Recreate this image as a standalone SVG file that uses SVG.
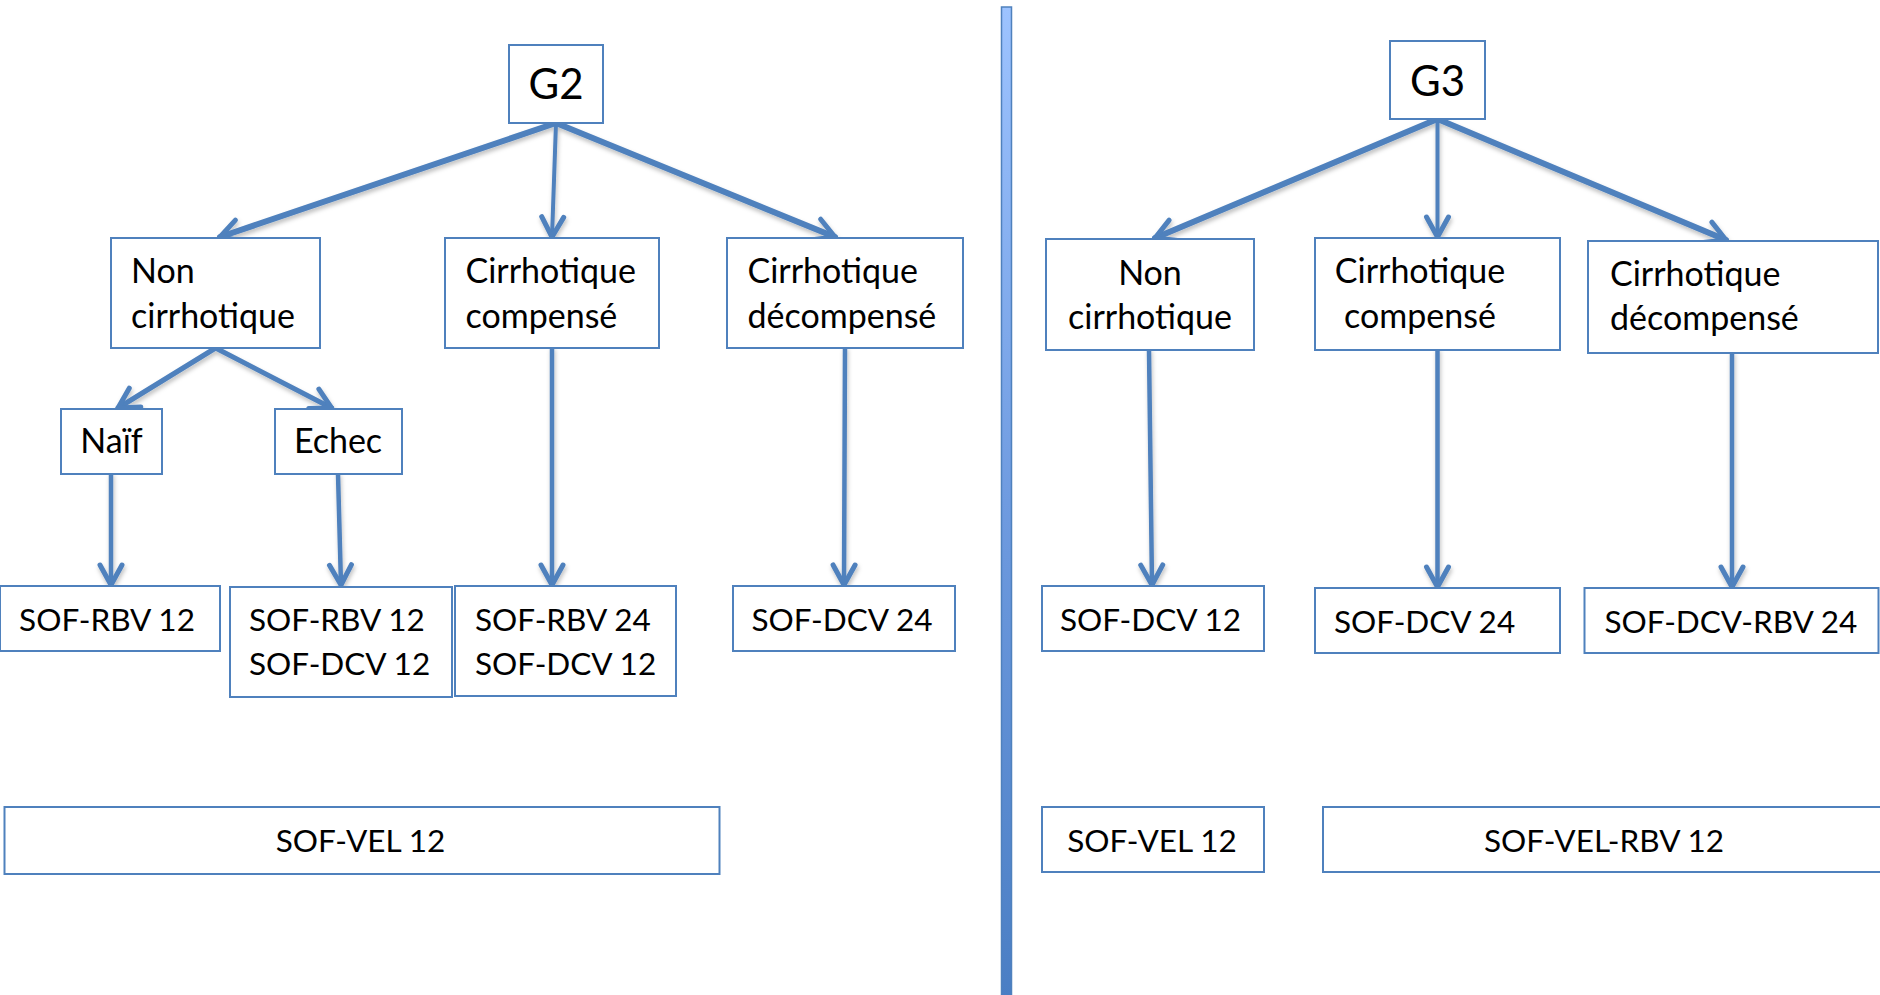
<svg xmlns="http://www.w3.org/2000/svg" width="1880" height="995" viewBox="0 0 1880 995">
<defs>
<marker id="ah" markerUnits="userSpaceOnUse" viewBox="-26 -16 32 32" markerWidth="32" markerHeight="32" refX="0" refY="0" orient="auto">
<path d="M -20 -11 L 0 0 L -20 11" fill="none" stroke="#4f81bd" stroke-width="5" stroke-linecap="round" stroke-linejoin="round"/>
</marker>
<linearGradient id="dg" x1="0" y1="0" x2="0" y2="1">
<stop offset="0" stop-color="#9dc3ff"/>
<stop offset="0.5" stop-color="#6f9be0"/>
<stop offset="1" stop-color="#4a7ec4"/>
</linearGradient>
<filter id="sh" x="-20%" y="-20%" width="140%" height="140%">
<feDropShadow dx="1" dy="3" stdDeviation="2" flood-color="#000" flood-opacity="0.25"/>
</filter>
</defs>
<style>
.box{fill:#fff;stroke:#4f81bd;stroke-width:2}
.t{font-family:Lato,"Liberation Sans",sans-serif;font-size:34px;fill:#000}
.s{font-size:31.5px}
.c{text-anchor:middle}
.big{font-size:42px}
.cn path{fill:none;stroke:#4f81bd;stroke-linecap:round;marker-end:url(#ah)}
</style>
<rect width="1880" height="995" fill="#fff"/>
<rect id="divider" x="1001.5" y="7" width="10" height="990" fill="url(#dg)" stroke="#4f81bd" stroke-width="1.5"/>

<g class="cn" filter="url(#sh)">
<path d="M556 123 L220 237" stroke-width="6"/>
<path d="M556 123 L552 237" stroke-width="4"/>
<path d="M556 123 L835 237" stroke-width="6"/>
<path d="M215.6 348 L118 408" stroke-width="5"/>
<path d="M215.6 348 L331.6 408" stroke-width="5"/>
<path d="M111 474 L111 585" stroke-width="4.5"/>
<path d="M338 474 L341 585" stroke-width="4.5"/>
<path d="M552 348 L552 585" stroke-width="4.5"/>
<path d="M845 348 L844 585" stroke-width="4.5"/>
<path d="M1437.5 119 L1155 238" stroke-width="6"/>
<path d="M1437.5 119 L1437.5 237" stroke-width="4"/>
<path d="M1437.5 119 L1726 240" stroke-width="6"/>
<path d="M1149 350 L1152 585" stroke-width="4.5"/>
<path d="M1437.5 350 L1437.5 587" stroke-width="4.5"/>
<path d="M1732 353 L1732 587" stroke-width="4.5"/>
</g>

<g id="g2">
<rect class="box" x="509" y="45" width="94" height="78"/>
<text class="t big c" x="556" y="99">G2</text>
</g>
<g id="g2-noncirr">
<rect class="box" x="111" y="238" width="209" height="110"/>
<text class="t" x="131" y="283">Non</text>
<text class="t" x="131" y="328">cirrhotique</text>
</g>
<g id="g2-comp">
<rect class="box" x="445" y="238" width="214" height="110"/>
<text class="t" x="465.5" y="283">Cirrhotique</text>
<text class="t" x="465.5" y="328">compensé</text>
</g>
<g id="g2-decomp">
<rect class="box" x="727" y="238" width="236" height="110"/>
<text class="t" x="747.5" y="283">Cirrhotique</text>
<text class="t" x="747.5" y="328">décompensé</text>
</g>
<g id="g2-naif">
<rect class="box" x="61" y="409" width="101" height="65"/>
<text class="t c" x="111.5" y="453">Naïf</text>
</g>
<g id="g2-echec">
<rect class="box" x="275" y="409" width="127" height="65"/>
<text class="t c" x="338" y="453">Echec</text>
</g>
<g id="g2-r1">
<rect class="box" x="0" y="586" width="220" height="65"/>
<text class="t s c" x="107" y="631">SOF-RBV 12</text>
</g>
<g id="g2-r2">
<rect class="box" x="230" y="587" width="222" height="110"/>
<text class="t s" x="249" y="631">SOF-RBV 12</text>
<text class="t s" x="249" y="675">SOF-DCV 12</text>
</g>
<g id="g2-r3">
<rect class="box" x="455" y="586" width="221" height="110"/>
<text class="t s" x="475" y="631">SOF-RBV 24</text>
<text class="t s" x="475" y="675">SOF-DCV 12</text>
</g>
<g id="g2-r4">
<rect class="box" x="733" y="586" width="222" height="65"/>
<text class="t s c" x="842" y="631">SOF-DCV 24</text>
</g>
<g id="g2-vel">
<rect class="box" x="4.5" y="807" width="715" height="67"/>
<text class="t s c" x="360.5" y="852">SOF-VEL 12</text>
</g>

<g id="g3">
<rect class="box" x="1390" y="41" width="95" height="78"/>
<text class="t big c" x="1437.5" y="96">G3</text>
</g>
<g id="g3-noncirr">
<rect class="box" x="1046" y="239" width="208" height="111"/>
<text class="t c" x="1150" y="285">Non</text>
<text class="t c" x="1150" y="329">cirrhotique</text>
</g>
<g id="g3-comp">
<rect class="box" x="1315" y="238" width="245" height="112"/>
<text class="t c" x="1420" y="283">Cirrhotique</text>
<text class="t c" x="1420" y="328">compensé</text>
</g>
<g id="g3-decomp">
<rect class="box" x="1588" y="241" width="290" height="112"/>
<text class="t" x="1610" y="286">Cirrhotique</text>
<text class="t" x="1610" y="330">décompensé</text>
</g>
<g id="g3-r1">
<rect class="box" x="1042" y="586" width="222" height="65"/>
<text class="t s c" x="1150.5" y="631">SOF-DCV 12</text>
</g>
<g id="g3-r2">
<rect class="box" x="1315" y="588" width="245" height="65"/>
<text class="t s" x="1334" y="633">SOF-DCV 24</text>
</g>
<g id="g3-r3">
<rect class="box" x="1584.5" y="588" width="294" height="65"/>
<text class="t s" x="1604.5" y="633">SOF-DCV-RBV 24</text>
</g>
<g id="g3-vel">
<rect class="box" x="1042" y="807" width="222" height="65"/>
<text class="t s c" x="1152" y="852">SOF-VEL 12</text>
</g>
<g id="g3-velrbv">
<rect class="box" x="1323" y="807" width="600" height="65"/>
<text class="t s c" x="1604" y="852">SOF-VEL-RBV 12</text>
</g>
</svg>
